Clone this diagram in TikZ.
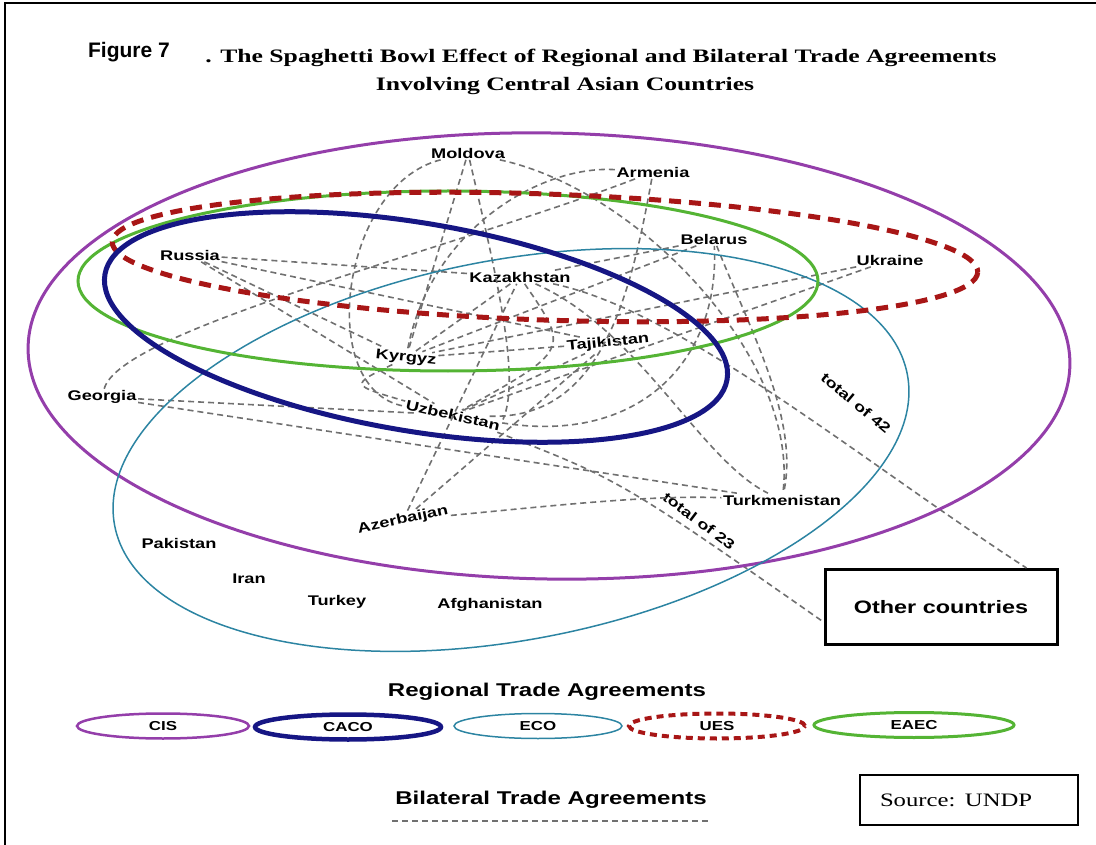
\documentclass[tikz,border=0pt]{standalone}
\usepackage{fontspec}
\usepackage{tikz}
\usetikzlibrary{shapes.geometric}
\newfontfamily\lblfont[FakeStretch=1.3]{Liberation Sans}
\newfontfamily\ttlfont[FakeStretch=1.35]{Liberation Serif}
\newfontfamily\srcfont[FakeStretch=1.3]{Liberation Serif}
\newfontfamily\figfont{Liberation Sans}
\definecolor{cisc}{RGB}{148,62,170}
\definecolor{cacoc}{RGB}{22,22,132}
\definecolor{ecoc}{RGB}{44,132,162}
\definecolor{uesc}{RGB}{168,22,22}
\definecolor{eaecc}{RGB}{84,180,52}
\definecolor{bilc}{RGB}{112,112,112}

\begin{document}
\begin{tikzpicture}[
    x=1pt, y=-1pt,
    ctry/.style={font=\lblfont\bfseries\fontsize{14}{16}\selectfont, inner sep=1.5pt},
    bil/.style={draw=bilc, line width=1.6pt, dash pattern=on 6pt off 4pt},
    lgd/.style={ellipse, minimum width=172, minimum height=25, inner sep=0pt,
                font=\lblfont\bfseries\fontsize{13}{15}\selectfont},
    hdr/.style={font=\lblfont\bfseries\fontsize{18.5}{21}\selectfont},
    ttl/.style={font=\ttlfont\bfseries\fontsize{19}{22}\selectfont},
    box/.style={rectangle, draw=black, fill=white}
]
\useasboundingbox (0,0) rectangle (1096,845);
\draw[line width=2pt] (5,845) -- (5,3) -- (1096,3);

\node[font=\figfont\bfseries\fontsize{21}{24}\selectfont] (fig) at (129,52) {Figure 7};
\node[ttl] (ttl1) at (601,58) {. The Spaghetti Bowl Effect of Regional and Bilateral Trade Agreements};
\node[ttl] (ttl2) at (565,86) {Involving Central Asian Countries};

\node[ctry] (mo) at (468,153) {Moldova};
\node[ctry] (ar) at (653,172) {Armenia};
\node[ctry] (be) at (714,239) {Belarus};
\node[ctry] (ru) at (190,255) {Russia};
\node[ctry] (uk) at (890,260) {Ukraine};
\node[ctry] (ka) at (520,277) {Kazakhstan};
\node[ctry, rotate=6] (ta) at (608,343) {Tajikistan};
\node[ctry, rotate=-6] (ky) at (406,358) {Kyrgyz};
\node[ctry] (ge) at (102,397) {Georgia};
\node[ctry, rotate=-13] (uz) at (453,415) {Uzbekistan};
\node[ctry] (tu) at (782,500) {Turkmenistan};
\node[ctry, rotate=12] (az) at (403,520) {Azerbaijan};
\node[ctry] (pk) at (179,543) {Pakistan};
\node[ctry] (ir) at (249,579) {Iran};
\node[ctry] (tr) at (337,602) {Turkey};
\node[ctry] (af) at (490,605) {Afghanistan};
\node[box, line width=3pt, minimum width=232, minimum height=75,
      font=\lblfont\bfseries\fontsize{18}{20}\selectfont] (oc) at (941,607) {Other countries};
\node[ctry, rotate=-40] (t42) at (856,403) {total of 42};
\node[ctry, rotate=-37] (t23) at (699,521) {total of 23};

\draw[bil] (mo) .. controls (340,185) and (315,390) .. (uz);
\draw[bil] (mo) -- (ky);
\draw[bil] (mo) .. controls (500,290) and (520,380) .. (uz.north east);
\draw[bil] (mo) .. controls (640,190) and (800,360) .. (tu);
\draw[bil] (ar) .. controls (540,165) and (430,230) .. (ky);
\draw[bil] (ge) .. controls (120,330) and (450,250) .. (ar);
\draw[bil] (ar) .. controls (630,300) and (600,420) .. (uz);
\draw[bil] (ka) .. controls (640,330) and (700,460) .. (tu);
\draw[bil] (be) .. controls (750,330) and (800,420) .. (tu);
\draw[bil] (be) -- (ky);
\draw[bil] (ka) -- (be);
\draw[bil] (ge) -- (uz);
\draw[bil] (ge) -- (tu);
\draw[bil] (ru) -- (ka);
\draw[bil] (ru) -- (ky);
\draw[bil] (ru) -- (uz);
\draw[bil] (ru) -- (ta);
\draw[bil] (ka) .. controls (680,310) and (860,460) .. ([xshift=-32pt]oc.north east);
\draw[bil] (uz) .. controls (620,480) .. ([yshift=-15pt]oc.west);
\draw[bil] (az) -- (ka);
\draw[bil] (az) -- (ta);
\draw[bil] (az) .. controls (560,505) and (650,495) .. (tu);
\draw[bil] (uk) -- (ky);
\draw[bil] (uk) -- (uz);
\draw[bil] (ky) -- (ta);
\draw[bil] (uz) -- (ta);
\draw[bil] (ka) -- (ky);
\draw[bil] (ka) .. controls (570,350) .. (uz);
\draw[bil] (uz) .. controls (640,445) and (720,360) .. (be);
\draw[bil] (ky) .. controls (350,385) .. (uz);

\draw[cisc, line width=3pt, rotate around={-1:(549,356)}] (549,356) ellipse [x radius=521, y radius=223];
\draw[ecoc, line width=1.5pt, rotate around={10.8:(511,450)}] (511,450) ellipse [x radius=403.5, y radius=190];
\draw[eaecc, line width=3pt] (448,281) ellipse [x radius=370, y radius=90];
\draw[uesc, line width=5pt, dash pattern=on 12pt off 8pt, rotate around={-2:(545,257)}] (545,257) ellipse [x radius=433, y radius=63];
\draw[cacoc, line width=5pt, rotate around={-9.6:(416,327)}] (416,327) ellipse [x radius=315.5, y radius=104];

\node[hdr] (rta) at (547,692) {Regional Trade Agreements};
\node[lgd, draw=cisc, line width=2.5pt] (lcis) at (163,726) {CIS};
\node[lgd, draw=cacoc, line width=4.5pt, minimum width=186] (lcaco) at (348,727) {CACO};
\node[lgd, draw=ecoc, line width=1.5pt, minimum width=168] (leco) at (538,726) {ECO};
\node[lgd, draw=uesc, line width=4pt, dash pattern=on 7pt off 5pt, minimum width=176] (lues) at (717,726) {UES};
\node[lgd, draw=eaecc, line width=3pt, minimum width=200] (leaec) at (914,725) {EAEC};

\node[hdr] (bta) at (551,800) {Bilateral Trade Agreements};
\draw[bil] ([yshift=-9pt]bta.south west) -- ([yshift=-9pt]bta.south east);

\node[box, line width=1.2pt, minimum width=218, minimum height=50, text width=178, align=left,
      font=\srcfont\fontsize{19}{22}\selectfont] (src) at (969,800) {Source: UNDP};
\end{tikzpicture}
\end{document}
